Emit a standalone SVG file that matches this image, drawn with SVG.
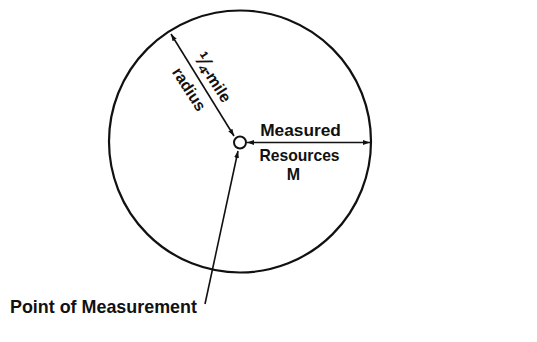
<svg xmlns="http://www.w3.org/2000/svg" width="537" height="342" viewBox="0 0 537 342">
<style>
.lbl{font-family:"Liberation Sans",Arial,sans-serif;font-weight:bold;fill:#111}
.ln{stroke:#111;stroke-width:1.6;fill:none}
</style>
<defs>
<marker id="ah" viewBox="0 0 10 10" refX="10" refY="5" markerWidth="7" markerHeight="7" markerUnits="userSpaceOnUse" orient="auto-start-reverse">
<path d="M0,1.5 L10,5 L0,8.5 Z" fill="#111"/>
</marker>
</defs>
<rect width="537" height="342" fill="#fff"/>
<g id="area">
<circle cx="240" cy="141.5" r="131" fill="none" stroke="#111" stroke-width="2.2"/>
</g>
<g id="point">
<circle cx="240" cy="142.5" r="6" fill="#fff" stroke="#111" stroke-width="2"/>
</g>
<g id="connectors">
<line class="ln" x1="171" y1="34" x2="234" y2="136" marker-start="url(#ah)" marker-end="url(#ah)"/>
<line class="ln" x1="247" y1="142.5" x2="370" y2="142.5" marker-start="url(#ah)" marker-end="url(#ah)"/>
<line class="ln" x1="205" y1="304" x2="238" y2="151" marker-end="url(#ah)"/>
</g>
<g id="labels">
<g transform="translate(170,32.7) rotate(57.2)">
<text class="lbl" x="61" y="-6" text-anchor="middle" style="font-size:16px"><tspan style="font-size:21px">¼</tspan>-mile</text>
<text class="lbl" x="58" y="20" text-anchor="middle" style="font-size:16px">radius</text>
</g>
<text class="lbl" x="300.5" y="136" text-anchor="middle" style="font-size:17.3px">Measured</text>
<text class="lbl" x="299.5" y="160.5" text-anchor="middle" style="font-size:15.7px">Resources</text>
<text class="lbl" x="293.5" y="180" text-anchor="middle" style="font-size:16px">M</text>
<text class="lbl" x="10" y="313" style="font-size:17.9px">Point of Measurement</text>
</g>
</svg>
